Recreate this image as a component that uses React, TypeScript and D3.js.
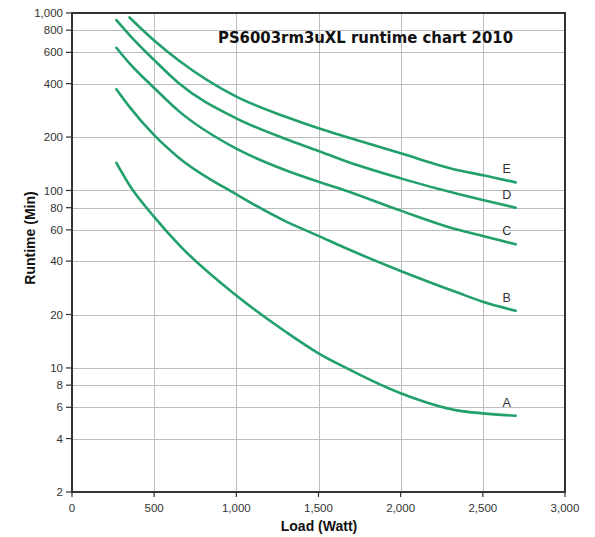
import React from "react";
import * as d3 from "d3";

// load in watts, runtime in minutes
const loads = [270, 350, 500, 650, 1000, 1300, 1500, 1650, 2000, 2350, 2500, 2700];
const seriesA = [143, 107, 71, 49.5, 25.6, 16, 12.1, 10.2, 7.2, 5.75, 5.55, 5.38];
const seriesB = [372, 296, 205, 153, 95, 67, 55.5, 48, 35.2, 26.5, 23.6, 21];
const seriesC = [637, 520, 378, 280, 172, 130, 112, 101, 77, 60, 55.4, 49.7];
const seriesD = [912, 751, 543, 402, 255, 195, 167, 148, 117, 95.5, 88.4, 80];
const seriesE = [null, 944, 700, 540, 338, 260, 224, 203, 162, 130, 122, 111];
const seriesNames = ["A", "B", "C", "D", "E"];
const xTicks = [0, 500, 1000, 1500, 2000, 2500, 3000];
const yTicks = [2, 4, 6, 8, 10, 20, 40, 60, 80, 100, 200, 400, 600, 800, 1000];

const W = 595;
const H = 537;
const margin = { top: 13, right: 30, bottom: 45, left: 72 };
const font = "Liberation Sans, Arial, sans-serif";

export default function App() {
  const x = d3
    .scaleLinear()
    .domain([0, 3000])
    .range([margin.left, W - margin.right]);
  const y = d3
    .scaleLog()
    .domain([2, 1000])
    .range([H - margin.bottom, margin.top]);
  const fmt = d3.format(",");

  const line = d3
    .line()
    .x((d) => x(d[0]))
    .y((d) => y(d[1]))
    .curve(d3.curveMonotoneX);

  const all = [seriesA, seriesB, seriesC, seriesD, seriesE];
  const x0 = x(0);
  const x1 = x(3000);
  const yTop = y(1000);
  const yBot = y(2);

  return (
    <svg width={W} height={H} style={{ position: "absolute", left: 0, top: 0 }}>
      {/* grid */}
      {xTicks.slice(1, -1).map((t) => (
        <line
          key={"gx" + t}
          x1={Math.round(x(t)) + 0.5}
          x2={Math.round(x(t)) + 0.5}
          y1={yTop}
          y2={yBot}
          stroke="#bdbdbd"
          strokeWidth={1}
        />
      ))}
      {yTicks.slice(1, -1).map((t) => (
        <line
          key={"gy" + t}
          x1={x0}
          x2={x1}
          y1={Math.round(y(t)) + 0.5}
          y2={Math.round(y(t)) + 0.5}
          stroke="#bdbdbd"
          strokeWidth={1}
        />
      ))}
      {/* curves */}
      {all.map((s, i) => {
        const pts = loads
          .map((l, j) => [l, s[j]])
          .filter((d) => d[1] != null);
        const last = pts[pts.length - 1];
        return (
          <g key={seriesNames[i]}>
            <path
              d={line(pts)}
              fill="none"
              stroke="#22a06b"
              strokeWidth={2.6}
              strokeLinecap="round"
            />
            <text
              x={x(last[0]) - 9}
              y={y(last[1]) - 9}
              textAnchor="middle"
              fill="#333"
              fontFamily={font}
              fontSize={12.5}
            >
              {seriesNames[i]}
            </text>
          </g>
        );
      })}
      {/* axes */}
      <g fontFamily={font} fontSize={11.5} fill="#333">
        {xTicks.map((t) => (
          <g key={"xt" + t}>
            <line x1={x(t)} x2={x(t)} y1={yBot} y2={yBot + 5} stroke="#333" strokeWidth={1.2} />
            <text x={x(t)} y={yBot + 20} textAnchor="middle">
              {fmt(t)}
            </text>
          </g>
        ))}
        {yTicks.map((t) => (
          <g key={"yt" + t}>
            <line x1={x0 - 6} x2={x0} y1={y(t)} y2={y(t)} stroke="#333" strokeWidth={1.2} />
            <text x={x0 - 9} y={y(t)} dy="0.35em" textAnchor="end">
              {fmt(t)}
            </text>
          </g>
        ))}
      </g>
      {/* frame: axes plus top and right edges in one path */}
      <path
        d={`M${x0},${yBot}V${yTop}H${x1}V${yBot}Z`}
        fill="none"
        stroke="#333"
        strokeWidth={2}
      />
      {/* title */}
      <text
        x={218}
        y={43}
        textLength={295}
        lengthAdjust="spacingAndGlyphs"
        fill="#111"
        fontFamily="DejaVu Sans, sans-serif"
        fontWeight="bold"
        fontSize={16}
      >
        PS6003rm3uXL runtime chart 2010
      </text>
      {/* axis titles */}
      <text
        x={319}
        y={531}
        textAnchor="middle"
        fill="#111"
        fontFamily={font}
        fontWeight="bold"
        fontSize={14}
      >
        Load (Watt)
      </text>
      <text
        transform="translate(35,238) rotate(-90)"
        textAnchor="middle"
        fill="#111"
        fontFamily={font}
        fontWeight="bold"
        fontSize={14}
      >
        Runtime (Min)
      </text>
    </svg>
  );
}
